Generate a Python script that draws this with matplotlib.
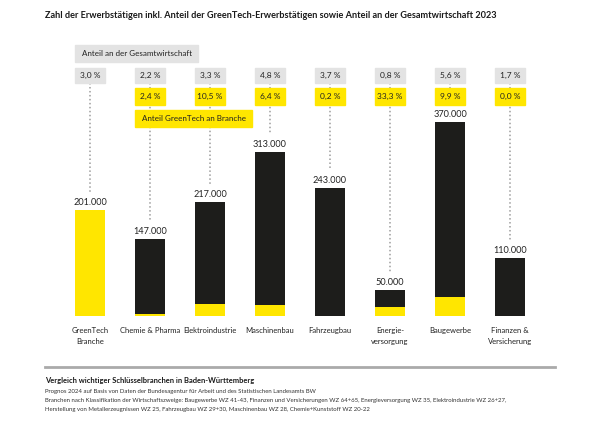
import matplotlib
matplotlib.use("Agg")
import matplotlib.pyplot as plt
from matplotlib.patches import Rectangle
import numpy as np

plt.rcParams['font.family'] = ['Lato', 'DejaVu Sans']

# data
categories = ["GreenTech\nBranche", "Chemie & Pharma", "Elektroindustrie", "Maschinenbau",
              "Fahrzeugbau", "Energie-\nversorgung", "Baugewerbe", "Finanzen &\nVersicherung"]
employed = [201000, 147000, 217000, 313000, 243000, 50000, 370000, 110000]
share_economy = ["3,0 %", "2,2 %", "3,3 %", "4,8 %", "3,7 %", "0,8 %", "5,6 %", "1,7 %"]
greentech_share = [100.0, 2.4, 10.5, 6.4, 0.2, 33.3, 9.9, 0.0]
greentech_labels = [None, "2,4 %", "10,5 %", "6,4 %", "0,2 %", "33,3 %", "9,9 %", "0,0 %"]

YELLOW = "#ffe600"
BLACK = "#1d1d1b"
GREY = "#e3e3e3"
TXT = "#222222"

W, H = 600, 426
BASE = 316          # baseline row in pixels from the top
SCALE = 0.525       # pixels per 1000 employed

fig = plt.figure(figsize=(6, 4.26), dpi=100)
ax = fig.add_axes([0, (H - BASE) / H, 1, BASE / H])
ax.set_xlim(-1.5, 8.5)
ax.set_ylim(0, BASE / SCALE)
ax.axis("off")


def py(p):
    # pixel row (from top) -> data units (thousands)
    return (BASE - p) / SCALE


def fy(p):
    return 1 - p / H


x = np.arange(len(categories))
vals = np.array(employed) / 1000
green = vals * np.array(greentech_share) / 100

ax.bar(x, green, width=0.5, color=YELLOW, zorder=3)
ax.bar(x, vals - green, bottom=green, width=0.5, color=BLACK, zorder=3)

# baseline
ax.plot([-0.75, 7.75], [py(316.5), py(316.5)], color="#e6e6e6", lw=2, zorder=2,
        solid_capstyle="butt")

for i, v in enumerate(vals):
    lab = f"{employed[i]:,}".replace(",", ".")
    ax.text(i, v + 3 / SCALE, lab, ha="center", va="bottom", fontsize=6.6, color=TXT, zorder=4)
    # dotted guide line
    ax.plot([i, i], [py(83), v + 18 / SCALE], color="#9d9d9d", lw=1.1,
            linestyle=(0, (1, 1.6)), zorder=1)
    # grey box
    ax.add_patch(Rectangle((i - 0.25, py(83)), 0.5, 15 / SCALE, color=GREY, zorder=4, clip_on=False))
    ax.text(i, py(75.5), share_economy[i], ha="center", va="center", fontsize=6.0, color=TXT, zorder=5)
    if greentech_labels[i]:
        ax.add_patch(Rectangle((i - 0.25, py(105)), 0.5, 17 / SCALE, color=YELLOW, zorder=4, clip_on=False))
        ax.text(i, py(96.5), greentech_labels[i], ha="center", va="center", fontsize=6.0, color=TXT, zorder=5)
    ax.text(i, py(327), categories[i], ha="center", va="top", fontsize=5.5, color=TXT,
            linespacing=1.7)

# legend boxes
ax.add_patch(Rectangle((-0.25, py(62)), (198 - 75) / 60, 17 / SCALE, color=GREY, zorder=4, clip_on=False))
ax.text(-0.25 + 7 / 60, py(53.5), "Anteil an der Gesamtwirtschaft", ha="left", va="center",
        fontsize=5.8, color=TXT, zorder=5)
ax.add_patch(Rectangle((0.75, py(127)), (252 - 135) / 60, 17 / SCALE, color=YELLOW, zorder=4, clip_on=False))
ax.text(0.75 + 7 / 60, py(118.5), "Anteil GreenTech an Branche", ha="left", va="center",
        fontsize=5.8, color=TXT, zorder=5)

# title
fig.text(45 / W, fy(16), "Zahl der Erwerbstätigen inkl. Anteil der GreenTech-Erwerbstätigen sowie Anteil an der Gesamtwirtschaft 2023",
         ha="left", va="center", fontsize=6.6, fontweight="bold", color="#1a1a1a")

# footer
fig.add_artist(plt.Line2D([45 / W, 555 / W], [fy(367), fy(367)], color="#aaaaaa", lw=2))
fig.text(45 / W, fy(381), "Vergleich wichtiger Schlüsselbranchen in Baden-Württemberg",
         ha="left", va="center", fontsize=5.4, fontweight="bold", color="#1a1a1a")
notes = ["Prognos 2024 auf Basis von Daten der Bundesagentur für Arbeit und des Statistischen Landesamts BW",
         "Branchen nach Klassifikation der Wirtschaftszweige: Baugewerbe WZ 41-43, Finanzen und Versicherungen WZ 64+65, Energieversorgung WZ 35, Elektroindustrie WZ 26+27,",
         "Herstellung von Metallerzeugnissen WZ 25, Fahrzeugbau WZ 29+30, Maschinenbau WZ 28, Chemie+Kunststoff WZ 20-22"]
for k, line in enumerate(notes):
    fig.text(45 / W, fy(391 + 9.5 * k), line, ha="left", va="center", fontsize=4.3, color="#333333")

fig.savefig("out.png", dpi=100)
